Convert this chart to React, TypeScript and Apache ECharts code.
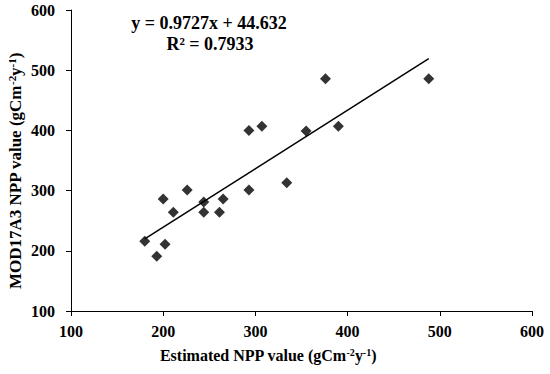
import React, { useEffect, useRef } from "react";
import * as echarts from "echarts";

const estimatedNPP = [180, 193, 200, 202, 211, 226, 244, 244, 261, 265, 293, 293, 307, 334, 355, 376, 390, 488];
const modisNPP = [216, 191, 286, 211, 264, 301, 281, 264, 264, 286, 301, 400, 407, 313, 399, 486, 407, 486];
const slope = 0.9727;
const intercept = 44.632;
const trendX = [180, 488];
const xTicks = [100, 200, 300, 400, 500, 600];
const yTicks = [100, 200, 300, 400, 500, 600];

const FONT = "'Liberation Serif', 'Times New Roman', serif";

export default function App() {
  const ref = useRef<HTMLDivElement>(null);
  useEffect(() => {
    if (!ref.current) return;
    const chart = echarts.init(ref.current, null, { renderer: "svg" });
    const points = estimatedNPP.map((x, i) => [x, modisNPP[i]]);
    const trend = trendX.map((x) => [x, slope * x + intercept]);
    chart.setOption({
      animation: false,
      backgroundColor: "#fff",
      grid: { left: 71, right: 18, top: 10, bottom: 63 },
      xAxis: {
        type: "value",
        min: xTicks[0],
        max: xTicks[xTicks.length - 1],
        interval: 100,
        splitLine: { show: false },
        axisLine: { lineStyle: { color: "#000", width: 1 } },
        axisTick: { show: true, length: 5, lineStyle: { color: "#000" } },
        axisLabel: { color: "#000", fontFamily: FONT, fontWeight: "bold", fontSize: 16, margin: 12 },
      },
      yAxis: {
        type: "value",
        min: yTicks[0],
        max: yTicks[yTicks.length - 1],
        interval: 100,
        splitLine: { show: false },
        axisLine: { show: true, lineStyle: { color: "#000", width: 1 } },
        axisTick: { show: true, length: 5, lineStyle: { color: "#000" } },
        axisLabel: { color: "#000", fontFamily: FONT, fontWeight: "bold", fontSize: 16, margin: 16 },
      },
      series: [
        {
          type: "scatter",
          data: points,
          symbol: "diamond",
          symbolSize: 11,
          itemStyle: { color: "#000" },
        },
        {
          type: "line",
          data: trend,
          symbol: "none",
          lineStyle: { color: "#000", width: 1.5 },
        },
      ],
      graphic: [
        {
          type: "text",
          x: 209,
          y: 23,
          style: {
            text: "y = 0.9727x + 44.632",
            font: `bold 18px ${FONT}`,
            fill: "#000",
            textAlign: "center",
            textVerticalAlign: "middle",
          },
        },
        {
          type: "text",
          x: 210,
          y: 44,
          style: {
            text: "R² = 0.7933",
            font: `bold 18px ${FONT}`,
            fill: "#000",
            textAlign: "center",
            textVerticalAlign: "middle",
          },
        },
        {
          type: "text",
          x: 268,
          y: 355,
          style: {
            text: "{a|Estimated NPP value (gCm}{s|-2}{a|y}{s|-1}{a|)}",
            textAlign: "center",
            textVerticalAlign: "middle",
            rich: {
              a: { font: `bold 16px ${FONT}`, fill: "#000", verticalAlign: "bottom" },
              s: { font: `bold 10px ${FONT}`, fill: "#000", verticalAlign: "top" },
            },
          },
        },
        {
          type: "text",
          x: 15,
          y: 171,
          rotation: Math.PI / 2,
          style: {
            text: "{a|MOD17A3 NPP value (gCm}{s|-2}{a|y}{s|-1}{a|)}",
            textAlign: "center",
            textVerticalAlign: "middle",
            rich: {
              a: { font: `bold 17px ${FONT}`, fill: "#000", verticalAlign: "bottom" },
              s: { font: `bold 11px ${FONT}`, fill: "#000", verticalAlign: "top" },
            },
          },
        },
      ],
    });
    return () => chart.dispose();
  }, []);
  return <div ref={ref} style={{ width: 550, height: 374, position: "absolute", left: 0, top: 0 }} />;
}
